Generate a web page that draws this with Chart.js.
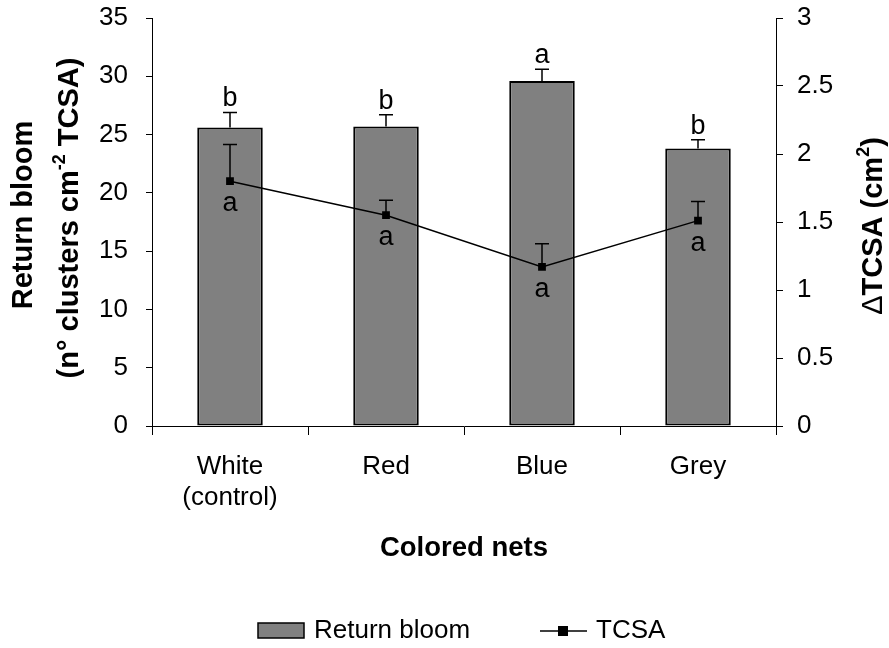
<!DOCTYPE html>
<html>
<head>
<meta charset="utf-8">
<script src="https://cdn.jsdelivr.net/npm/chart.js@4.4.1/dist/chart.umd.min.js"></script>
<style>
  html, body { margin: 0; padding: 0; background: #fff; }
  #wrap { width: 889px; height: 648px; }
</style>
</head>
<body>
<div id="wrap"><canvas id="chart" width="889" height="648"></canvas></div>
<script>
// data
const categories = [["White", "(control)"], "Red", "Blue", "Grey"];
const bloomValues = [25.6, 25.7, 29.6, 23.8];
const bloomErrors = [1.3, 1.0, 1.0, 0.75];
const bloomLetters = ["b", "b", "a", "b"];
const tcsaValues = [1.80, 1.55, 1.17, 1.51];
const tcsaErrors = [0.27, 0.11, 0.17, 0.14];
const tcsaLetters = ["a", "a", "a", "a"];
const bloomAxis = { min: 0, max: 35, step: 5 };
const tcsaAxis = { min: 0, max: 3, step: 0.5 };

const FONT = "'Liberation Sans', Arial, sans-serif";

// error bars (upper only) and significance letters
const annotations = {
    id: "annotations",
    afterDatasetsDraw(chart) {
        const ctx = chart.ctx;
        const x = chart.scales.x, y = chart.scales.y, y1 = chart.scales.y1;
        ctx.save();
        ctx.strokeStyle = "#000";
        ctx.fillStyle = "#000";
        ctx.lineWidth = 1.5;
        ctx.font = "27px " + FONT;
        ctx.textAlign = "center";
        ctx.textBaseline = "alphabetic";
        categories.forEach((c, i) => {
            const cx = x.getPixelForValue(i);
            // bars
            const b0 = y.getPixelForValue(bloomValues[i]);
            const b1 = y.getPixelForValue(bloomValues[i] + bloomErrors[i]);
            ctx.beginPath();
            ctx.moveTo(cx, b0); ctx.lineTo(cx, b1);
            ctx.moveTo(cx - 7, b1); ctx.lineTo(cx + 7, b1);
            ctx.stroke();
            ctx.fillText(bloomLetters[i], cx, b1 - 6);
            // tcsa
            const t0 = y1.getPixelForValue(tcsaValues[i]);
            const t1 = y1.getPixelForValue(tcsaValues[i] + tcsaErrors[i]);
            ctx.beginPath();
            ctx.moveTo(cx, t0); ctx.lineTo(cx, t1);
            ctx.moveTo(cx - 7, t1); ctx.lineTo(cx + 7, t1);
            ctx.stroke();
            ctx.fillText(tcsaLetters[i], cx, t0 + 30);
        });
        ctx.restore();
    },
    afterDraw(chart) {
        const ctx = chart.ctx;
        const area = chart.chartArea;
        ctx.save();
        ctx.fillStyle = "#000";

        // x title
        ctx.font = "bold 27.5px " + FONT;
        ctx.textAlign = "center";
        ctx.textBaseline = "middle";
        ctx.fillText("Colored nets", (area.left + area.right) / 2, 548);

        const big = "bold 29px " + FONT, small = "bold 18px " + FONT;

        // left title, two lines, rotated
        ctx.save();
        ctx.translate(32, 215);
        ctx.rotate(-Math.PI / 2);
        ctx.font = big;
        ctx.textBaseline = "alphabetic";
        ctx.fillText("Return bloom", 0, 0);
        ctx.restore();

        ctx.save();
        ctx.translate(78, 218);
        ctx.rotate(-Math.PI / 2);
        ctx.textBaseline = "alphabetic";
        ctx.textAlign = "left";
        const parts = [["(n° clusters cm", big, 0], ["-2", small, -13], [" TCSA)", big, 0]];
        let total = 0;
        parts.forEach(p => { ctx.font = p[1]; total += ctx.measureText(p[0]).width; });
        let px = -total / 2;
        parts.forEach(p => { ctx.font = p[1]; ctx.fillText(p[0], px, p[2]); px += ctx.measureText(p[0]).width; });
        ctx.restore();

        // right title
        ctx.save();
        ctx.translate(882, 226);
        ctx.rotate(-Math.PI / 2);
        ctx.textBaseline = "alphabetic";
        ctx.textAlign = "left";
        const rparts = [["\u0394", "29px " + FONT, 0], ["TCSA (cm", big, 0], ["2", small, -13], [")", big, 0]];
        total = 0;
        rparts.forEach(p => { ctx.font = p[1]; total += ctx.measureText(p[0]).width; });
        px = -total / 2;
        rparts.forEach(p => { ctx.font = p[1]; ctx.fillText(p[0], px, p[2]); px += ctx.measureText(p[0]).width; });
        ctx.restore();

        // legend
        const ly = 631;
        ctx.fillStyle = "#808080";
        ctx.fillRect(258, 623, 46, 15);
        ctx.strokeStyle = "#000";
        ctx.lineWidth = 1.5;
        ctx.strokeRect(258, 623, 46, 15);
        ctx.fillStyle = "#000";
        ctx.font = "26px " + FONT;
        ctx.textAlign = "left";
        ctx.textBaseline = "middle";
        ctx.fillText("Return bloom", 314, ly);
        ctx.beginPath();
        ctx.moveTo(540, ly); ctx.lineTo(587, ly);
        ctx.stroke();
        ctx.fillRect(558, ly - 5, 10, 10);
        ctx.fillText("TCSA", 596, ly);
        ctx.restore();
    }
};

new Chart(document.getElementById("chart"), {
    data: {
        labels: categories,
        datasets: [
            {
                type: "line",
                label: "TCSA",
                data: tcsaValues,
                yAxisID: "y1",
                borderColor: "#000",
                borderWidth: 1.5,
                backgroundColor: "#000",
                pointStyle: "rect",
                pointRadius: 5.5,
                pointBorderWidth: 0,
                tension: 0,
                order: 0
            },
            {
                type: "bar",
                label: "Return bloom",
                data: bloomValues,
                yAxisID: "y",
                backgroundColor: "#808080",
                borderColor: "#000",
                borderWidth: 2,
                borderSkipped: false,
                categoryPercentage: 1,
                barPercentage: 0.42,
                order: 1
            }
        ]
    },
    options: {
        responsive: false,
        animation: false,
        devicePixelRatio: 1,
        layout: { padding: { top: 18, left: 0, right: 0, bottom: 0 } },
        plugins: { legend: { display: false }, tooltip: { enabled: false } },
        scales: {
            x: {
                offset: true,
                grid: { offset: true, drawOnChartArea: false, tickLength: 9, color: "#000", lineWidth: 1 },
                border: { color: "#000", width: 1 },
                ticks: { color: "#000", font: { family: FONT, size: 26 }, padding: 16 },
                afterFit(s) { s.height = 222; s.paddingLeft = 0; s.paddingRight = 0; }
            },
            y: {
                position: "left",
                min: bloomAxis.min, max: bloomAxis.max,
                grid: { drawOnChartArea: false, tickLength: 6, color: "#000" },
                border: { color: "#000", width: 1 },
                ticks: { stepSize: bloomAxis.step, color: "#000", font: { family: FONT, size: 26 }, padding: 18 },
                afterFit(s) { s.width = 152; s.paddingTop = 0; s.paddingBottom = 0; }
            },
            y1: {
                position: "right",
                min: tcsaAxis.min, max: tcsaAxis.max,
                grid: { drawOnChartArea: false, tickLength: 7, color: "#000" },
                border: { color: "#000", width: 1 },
                ticks: {
                    stepSize: tcsaAxis.step, color: "#000", font: { family: FONT, size: 26 }, padding: 14,
                    callback: v => String(Number(v))
                },
                afterFit(s) { s.width = 113; s.paddingTop = 0; s.paddingBottom = 0; }
            }
        }
    },
    plugins: [annotations]
});
</script>
</body>
</html>
